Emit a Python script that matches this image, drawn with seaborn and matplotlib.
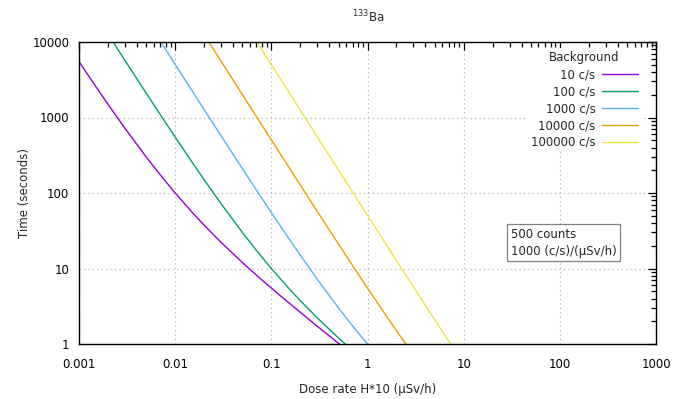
import numpy as np
import pandas as pd
import matplotlib
matplotlib.use("Agg")
import matplotlib.pyplot as plt
import seaborn as sns
from matplotlib.ticker import FixedLocator, LogLocator, NullFormatter

# ---- data ----
dose_b10 = [0.001, 0.0015, 0.002, 0.003, 0.005, 0.007, 0.01, 0.015, 0.02, 0.03, 0.05, 0.07, 0.1, 0.15, 0.2, 0.3, 0.5, 0.7]
time_b10 = [5500, 2556, 1500, 722, 300, 173.5, 100, 55.6, 37.5, 22.2, 12, 8.16, 5.5, 3.56, 2.63, 1.72, 1.02, 0.724]

dose_b100 = [0.002, 0.003, 0.005, 0.007, 0.01, 0.015, 0.02, 0.03, 0.05, 0.07, 0.1, 0.15, 0.2, 0.3, 0.5, 0.7]
time_b100 = [12750, 5722, 2100, 1092, 550, 255.6, 150, 72.2, 30, 17.35, 10, 5.56, 3.75, 2.22, 1.2, 0.816]

dose_b1000 = [0.005, 0.007, 0.01, 0.015, 0.02, 0.03, 0.05, 0.07, 0.1, 0.15, 0.2, 0.3, 0.5, 0.7, 1, 1.5]
time_b1000 = [20100, 10276, 5050, 2256, 1275, 572, 210, 109.2, 55, 25.6, 15, 7.22, 3, 1.73, 1, 0.556]

dose_b10000 = [0.02, 0.03, 0.05, 0.07, 0.1, 0.15, 0.2, 0.3, 0.5, 0.7, 1, 1.5, 2, 3]
time_b10000 = [12525, 5572, 2010, 1027.6, 505, 225.6, 127.5, 57.2, 21, 10.9, 5.5, 2.56, 1.5, 0.722]

dose_b100000 = [0.07, 0.1, 0.15, 0.2, 0.3, 0.5, 0.7, 1, 1.5, 2, 3, 5, 7, 10]
time_b100000 = [10211, 5005, 2225.6, 1252.5, 557.2, 201, 102.8, 50.5, 22.6, 12.75, 5.72, 2.1, 1.09, 0.55]

series_labels = ["10 c/s", "100 c/s", "1000 c/s", "10000 c/s", "100000 c/s"]
series_colors = ["#9400d3", "#009e73", "#56b4e9", "#e69f00", "#f0e442"]

x_ticks = [0.001, 0.01, 0.1, 1, 10, 100, 1000]
x_tick_labels = ["0.001", "0.01", "0.1", "1", "10", "100", "1000"]
y_ticks = [1, 10, 100, 1000, 10000]
y_tick_labels = ["1", "10", "100", "1000", "10000"]

title_text = "$^{133}$Ba"
x_label = "Dose rate H*10 (\u03bcSv/h)"
y_label = "Time (seconds)"
legend_title = "Background"
info_text = "500 counts\n1000 (c/s)/(\u03bcSv/h)"

# ---- build long table ----
doses = [dose_b10, dose_b100, dose_b1000, dose_b10000, dose_b100000]
times = [time_b10, time_b100, time_b1000, time_b10000, time_b100000]
frames = []
for lab, d, t in zip(series_labels, doses, times):
    frames.append(pd.DataFrame({"dose": d, "time": t, "Background": lab}))
df = pd.concat(frames, ignore_index=True)

sns.set_style("white")
plt.rcParams["font.family"] = ["DejaVu Sans"]
plt.rcParams["font.size"] = 8.5

fig = plt.figure(figsize=(6.76, 3.99), dpi=100)
ax = fig.add_axes([79 / 676, 1 - 344 / 399, (656 - 79) / 676, (344 - 42) / 399])

sns.lineplot(data=df, x="dose", y="time", hue="Background", hue_order=series_labels,
             palette=series_colors, ax=ax, linewidth=1.0, sort=False, estimator=None,
             legend=True)

ax.set_xscale("log")
ax.set_yscale("log")
ax.set_xlim(0.001, 1000)
ax.set_ylim(1, 10000)

ax.xaxis.set_major_locator(FixedLocator(x_ticks))
ax.set_xticklabels(x_tick_labels)
ax.yaxis.set_major_locator(FixedLocator(y_ticks))
ax.set_yticklabels(y_tick_labels)
ax.xaxis.set_minor_locator(LogLocator(base=10, subs=np.arange(2, 10), numticks=20))
ax.yaxis.set_minor_locator(LogLocator(base=10, subs=np.arange(2, 10), numticks=20))
ax.xaxis.set_minor_formatter(NullFormatter())
ax.yaxis.set_minor_formatter(NullFormatter())

ax.tick_params(which="both", direction="in", top=True, right=True, color="black", labelsize=8.5,
               labelcolor="#000000")
ax.tick_params(which="major", length=6, width=0.9, pad=7)
ax.tick_params(axis="x", which="major", pad=10)
ax.tick_params(which="minor", length=3.5, width=0.9)

for sp in ax.spines.values():
    sp.set_color("black")
    sp.set_linewidth(1.0)

ax.grid(True, which="major", color="#a8a8a8", linestyle=(0, (1, 3)), linewidth=0.8)
ax.set_axisbelow(True)

ax.set_xlabel(x_label, fontsize=8.5, labelpad=9)
ax.set_ylabel(y_label, fontsize=8.5, labelpad=1)

leg = ax.legend(title=legend_title, loc="upper right", bbox_to_anchor=(0.985, 1.0),
                markerfirst=False, frameon=True, fontsize=8.5, title_fontsize=8.5,
                handlelength=3.0, handletextpad=0.6, labelspacing=0.33, borderpad=0.3)
leg.get_frame().set_facecolor("white")
leg.get_frame().set_edgecolor("none")
leg.get_frame().set_alpha(1.0)
leg.set_zorder(5)

ax.text((511 - 79) / 577, (344 - 228) / 302, info_text, transform=ax.transAxes,
        ha="left", va="top", fontsize=8.5, linespacing=1.35, zorder=6,
        bbox=dict(boxstyle="square,pad=0.3", fc="white", ec="#808080", lw=0.9))

fig.text(368 / 676, 1 - 17 / 399, title_text, ha="center", va="center", fontsize=8.5)

fig.savefig("out.png", dpi=100, facecolor="white")
